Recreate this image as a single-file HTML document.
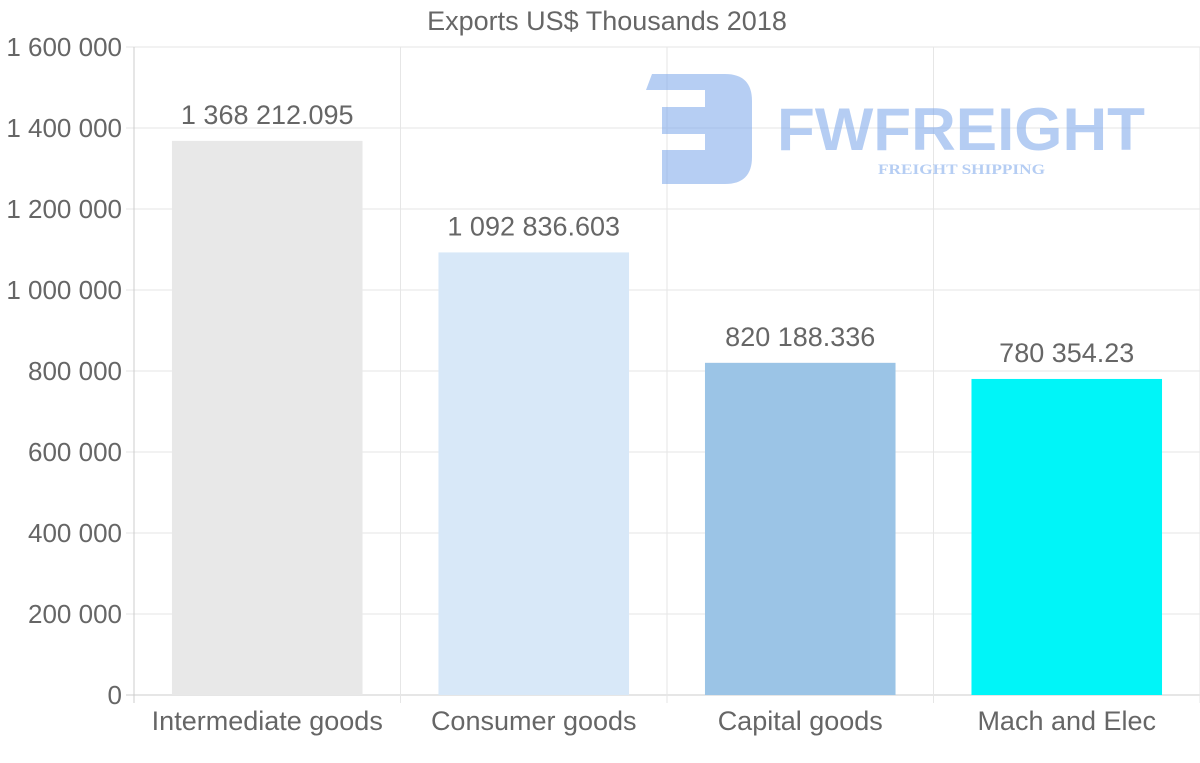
<!DOCTYPE html>
<html><head><meta charset="utf-8"><style>
html,body{margin:0;padding:0;background:#fff;width:1200px;height:763px;overflow:hidden}
text{font-family:"Liberation Sans",sans-serif}
</style></head><body>
<svg id="chart" width="1200" height="763">
<text x="607" y="30" text-anchor="middle" font-size="27" fill="#666">Exports US$ Thousands 2018</text>
<g id="grid"></g>
<g id="logo" opacity="0.55">
<path d="M652 74 H725 Q752 74 752 101 V157 Q752 184 725 184 H662 V150 H705 V134 H662 V107 H705 V90 H646 Z" fill="#7aa6ea"/>
<text x="777" y="150" font-size="60" font-weight="bold" fill="#7aa6ea" textLength="368" lengthAdjust="spacingAndGlyphs">FWFREIGHT</text>
<text x="878" y="174" font-size="15" font-weight="bold" fill="#7aa6ea" textLength="167" lengthAdjust="spacingAndGlyphs" style="font-family:'Liberation Serif',serif">FREIGHT SHIPPING</text>
</g>
<g id="bars"></g>
<g id="axes"></g>
</svg>
<script>
const categories=["Intermediate goods","Consumer goods","Capital goods","Mach and Elec"];
const values=[1368212.095,1092836.603,820188.336,780354.23];
const valueLabels=["1 368 212.095","1 092 836.603","820 188.336","780 354.23"];
const colors=["#e8e8e8","#d8e8f8","#9bc4e6","#00f5f8"];
const yTicks=[0,200000,400000,600000,800000,1000000,1200000,1400000,1600000];
const yTickLabels=["0","200 000","400 000","600 000","800 000","1 000 000","1 200 000","1 400 000","1 600 000"];
const NS="http://www.w3.org/2000/svg";
const L=134,R=1200,T=47,B=695,ymax=1600000;
const y=v=>B-(v/ymax)*(B-T);
const bw=(R-L)/categories.length;
const x=i=>L+bw*i;
function mk(t,a,p){const e=document.createElementNS(NS,t);for(const k in a)e.setAttribute(k,a[k]);p.appendChild(e);return e;}
const grid=document.getElementById('grid'),bars=document.getElementById('bars'),axes=document.getElementById('axes');
yTicks.forEach((v,i)=>{
 const ln=mk('line',{x1:L-8,x2:R,y1:y(v),y2:y(v),stroke:v===0?'#ccc':'#e6e6e6','stroke-width':1},grid);
 
 
 const t=mk('text',{x:L-12,y:y(v)+9,'text-anchor':'end','font-size':26,fill:'#666'},axes);
 t.textContent=yTickLabels[i];
 
 
});
for(let i=0;i<=categories.length;i++){
 const ln=mk('line',{x1:x(i),x2:x(i),y1:T,y2:B+8,stroke:i===0?'#ccc':'#e6e6e6','stroke-width':1},grid);
 
 
}
categories.forEach((c,i)=>{
 const w=bw*0.715,cx=x(i)+bw/2;
 const r=mk('rect',{x:cx-w/2,y:y(values[i]),width:w,height:B-y(values[i]),fill:colors[i]},bars);
 
 
 const vl=mk('text',{x:cx,y:y(values[i])-17,'text-anchor':'middle','font-size':27,fill:'#666'},bars);
 vl.textContent=valueLabels[i];
 
 
 const t=mk('text',{x:cx,y:730,'text-anchor':'middle','font-size':27,fill:'#666'},axes);
 t.textContent=c;
 
 
});
</script>
</body></html>
